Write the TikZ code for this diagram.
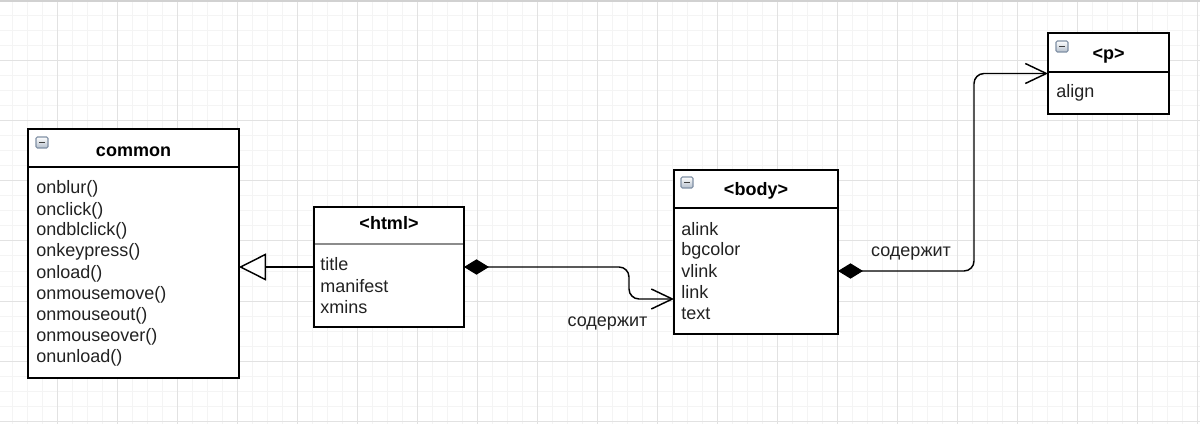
\documentclass[tikz,border=0pt]{standalone}
\usepackage{fontspec}
\setmainfont{Liberation Sans}
\usetikzlibrary{arrows.meta}
\definecolor{gmin}{HTML}{F4F4F4}
\definecolor{gmaj}{HTML}{E2E2E2}
\definecolor{ink}{HTML}{222222}
\definecolor{iconb}{HTML}{7F8FA4}
\definecolor{iconf}{HTML}{B4BFCC}
\tikzset{
  cls/.style={draw=black, line width=1.1pt, fill=white, anchor=north west, inner sep=0pt, outer sep=0pt},
  hdr/.style={font=\fontsize{13.5}{16}\selectfont\bfseries, anchor=base, text=black, inner sep=0pt},
  item/.style={font=\fontsize{13.5}{16}\selectfont, anchor=base west, text=ink, inner sep=0pt},
  lbl/.style={font=\fontsize{13.5}{16}\selectfont, anchor=base, text=ink, inner sep=0pt},
  sepline/.style={line width=1.1pt, draw=black},
  conn/.style={line width=1.1pt, draw=black, rounded corners=7.5pt},
  inh/.style={conn, -{Triangle[open, length=20.25pt, width=20.25pt, fill=white]}},
  comp/.style={conn, {Diamond[length=18.75pt, width=11.5pt]}-{Straight Barb[length=15.75pt, width=15pt]}},
}
\newcommand\clsicon[2]{%
  \shade[top color=white, bottom color=iconf, draw=iconb, line width=0.8pt, rounded corners=1pt] (#1,#2) rectangle ++(12,11);
  \draw[black!75, line width=1.3pt] (#1+3,#2+5.5) -- (#1+9,#2+5.5);
}
\begin{document}
\begin{tikzpicture}[x=0.75pt,y=-0.75pt]
\useasboundingbox (0,0) rectangle (1200,424);
\fill[white] (0,0) rectangle (1200,424);
% grid
\foreach \x in {12,27,...,1197} \draw[gmin, line width=0.75pt] (\x,0) -- (\x,424);
\foreach \y in {1,16,...,421} \draw[gmin, line width=0.75pt] (0,\y) -- (1200,\y);
\foreach \x in {57,117,...,1197} \draw[gmaj, line width=0.75pt] (\x,0) -- (\x,424);
\foreach \y in {61,121,...,421} \draw[gmaj, line width=0.75pt] (0,\y) -- (1200,\y);
\draw[black!18, line width=2pt] (0,1) -- (1200,1);

% common
\node[cls, minimum width=158.25pt, minimum height=186.75pt] (common) at (28,129) {};
\draw[sepline] (28,167) -- (239,167);
\clsicon{36}{137}
\node[hdr] (commonT) at (133.5,157) {common};
\node[item] (c1) at (36,194) {onblur()};
\node[item] (c2) at (36,215) {onclick()};
\node[item] (c3) at (36,236) {ondblclick()};
\node[item] (c4) at (36,257) {onkeypress()};
\node[item] (c5) at (36,278) {onload()};
\node[item] (c6) at (36,299) {onmousemove()};
\node[item] (c7) at (36,320) {onmouseout()};
\node[item] (c8) at (36,341) {onmouseover()};
\node[item] (c9) at (36,362) {onunload()};

% html
\node[cls, minimum width=112.5pt, minimum height=90pt] (html) at (314,207) {};
\draw[black!45, line width=0.9pt] (315,244) -- (463,244);
\node[hdr] (htmlT) at (389,229) {<html>};
\node[item] (h1) at (320,271) {title};
\node[item] (h2) at (320,292) {manifest};
\node[item] (h3) at (320,313) {xmins};

% body
\node[cls, minimum width=123pt, minimum height=123pt] (body) at (674,170) {};
\draw[sepline] (674,208) -- (838,208);
\clsicon{681}{177}
\node[hdr] (bodyT) at (756,196) {<body>};
\node[item] (b1) at (681,235) {alink};
\node[item] (b2) at (681,256) {bgcolor};
\node[item] (b3) at (681,277) {vlink};
\node[item] (b4) at (681,298) {link};
\node[item] (b5) at (681,319) {text};

% p
\node[cls, minimum width=90.75pt, minimum height=60.75pt] (p) at (1048,33) {};
\draw[sepline] (1048,72) -- (1169,72);
\clsicon{1056}{41}
\node[hdr] (pT) at (1108.5,60) {<p>};
\node[item] (p1) at (1056,98) {align};

% connectors
\draw[inh] (html.west) -- (common.east |- html.west);
\draw[comp] (html.east) -- (629,267) -- (629,299) -- (body.west |- 0,299);
\draw[comp] (body.east |- 0,271) -- (974,271) -- (974,73.5) -- (p.west);
\node[lbl] (l1) at (607.5,326) {содержит};
\node[lbl] (l2) at (911,257) {содержит};
\end{tikzpicture}
\end{document}
